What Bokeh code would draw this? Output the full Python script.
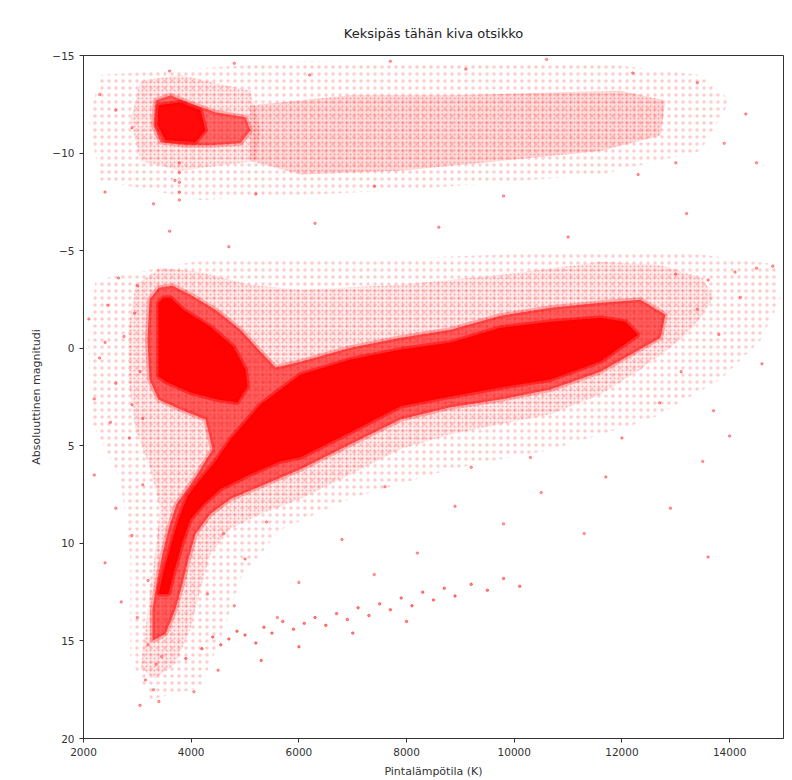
from bokeh.plotting import figure
from bokeh.models import Range1d, FixedTicker
from bokeh.embed import file_html
from bokeh.resources import INLINE

# ---------------- data ----------------
x_ticks = [2000, 4000, 6000, 8000, 10000, 12000, 14000]
y_ticks = [-15, -10, -5, 0, 5, 10, 15, 20]

# dense cores (T [K], M)
clump_T = [3486, 3616, 3857, 4358, 4786, 5009, 5046, 4860, 4488, 3987, 3560, 3393, 3393]
clump_M = [-2.58, -2.58, -1.97, -1.10, -0.08, 1.09, 1.96, 2.78, 2.63, 2.27, 1.76, 1.45, -2.33]

ms_T = [3393, 3486, 3579, 3671, 3764, 3931, 4173, 4451, 4730, 5287, 6030, 6958, 7887, 8816, 9744, 10673,
        11601, 12065, 12300, 11601, 10673, 9744, 8816, 7887, 6958, 6030, 5659, 5101, 4544, 4229, 3987,
        3857, 3764, 3671, 3579]
ms_M = [12.59, 11.46, 10.55, 9.63, 8.76, 7.58, 6.71, 5.79, 4.67, 2.88, 1.35, 0.58, 0.07, -0.29, -1.05, -1.36,
        -1.56, -1.36, -0.69, 0.68, 1.60, 2.01, 2.47, 2.98, 4.31, 5.59, 5.79, 6.46, 7.22, 7.99, 8.76,
        9.78, 10.65, 11.57, 12.59]

# dense speckle around the giant clump and main sequence
dense_T = [3226, 3393, 3653, 3987, 4451, 4916, 5250, 5566, 6030, 6958, 7887, 8816, 9744, 10673, 11601, 12344,
           12808, 12716, 12158, 11601, 10673, 9744, 8816, 7887, 6958, 6030, 5287, 4730, 4358, 4080, 3950,
           3838, 3709, 3523, 3281, 3281, 3374, 3467, 3579, 3727, 4080, 4395, 4266, 3801, 3393, 3226, 3188]
dense_M = [-2.48, -3.10, -3.20, -2.74, -1.97, -0.95, 0.07, 0.99, 0.69, -0.03, -0.54, -0.95, -1.67, -2.07, -2.33, -2.48,
           -1.72, -0.54, 0.33, 1.20, 2.12, 2.63, 3.03, 3.65, 4.92, 6.20, 7.07, 7.73, 8.50, 9.52, 10.80,
           12.08, 13.36, 14.63, 14.99, 13.36, 11.82, 10.55, 9.27, 7.99, 6.61, 5.18, 3.65, 3.14, 2.63, 1.60, -0.44]

# medium-density envelope
mid_T = [2966, 3430, 4173, 5101, 6030, 7887, 9744, 11601, 12716, 13500, 13700, 13400, 13087, 12344, 11601,
         10673, 9744, 8816, 7887, 6958, 6030, 5287, 4730, 4358, 4173, 3987, 3709, 3337, 3059, 3151, 3244,
         3337, 3430, 3244, 2966, 2836, 2836]
mid_M = [-3.25, -4.12, -3.91, -3.25, -2.99, -3.25, -3.76, -4.42, -4.27, -3.6, -2.6, -1.3, -0.44, 1.09, 2.37,
         3.39, 3.90, 4.41, 5.18, 6.46, 7.73, 8.50, 9.27, 10.55, 12.33, 14.38, 16.17, 16.93, 16.42, 14.38, 12.33,
         10.29, 8.25, 6.20, 4.16, 1.60, -0.95]

# sparse outer envelope
low_T = [2223, 4173, 7887, 11601, 13459, 14850, 14943, 14573, 13830, 12530, 10673, 8816, 6958, 5659, 4916,
         4544, 4173, 3244, 2873, 2873, 2687, 2130, 2093]
low_M = [-3.5, -4.5, -4.6, -5.0, -4.8, -4.3, -2.5, -0.4, 1.6, 3.65, 5.2, 6.2, 7.7, 9.3, 11.8,
         14.9, 17.4, 18.0, 15.9, 10.8, 6.7, 3.65, -0.4]

# upper group
top_core_T = [3393, 3801, 4173, 4266, 4080, 3523, 3374]
top_core_M = [-12.45, -12.6, -12.19, -11.17, -10.56, -10.66, -11.42]

top_dense_T = [3337, 3616, 3987, 4451, 5009, 5101, 4916, 4358, 3894, 3430, 3300]
top_dense_M = [-12.70, -12.96, -12.55, -12.09, -11.83, -11.17, -10.50, -10.40, -10.40, -10.56, -11.42]

top_mid_T = [3059, 3801, 5101, 5287, 5194, 3801, 3059, 2873]
top_mid_M = [-13.7, -14.0, -13.2, -11.2, -9.6, -9.1, -9.6, -11.7]

top_band_T = [5101, 6958, 8816, 10673, 11973, 12808, 12716, 11601, 9744, 7887, 6030, 5101]
top_band_M = [-12.45, -12.96, -12.96, -13.1, -13.2, -12.7, -10.9, -10.1, -9.6, -9.1, -8.9, -9.6]

top_low_T = [2316, 6030, 11601, 13459, 14016, 13459, 11601, 7887, 4173, 2316, 2093]
top_low_M = [-14.0, -14.7, -14.6, -14.0, -12.7, -10.1, -8.9, -8.1, -7.6, -8.6, -11.7]

# scattered individual stars
pts_T = [2100, 2300, 2450, 2600, 2750, 2900, 3000, 2500, 2200, 2850, 3050, 2650, 2950, 3100, 2400,
         3300, 3700, 5200, 7400, 9800, 12300, 6300, 3600, 11000, 13200, 4700, 8600, 14500, 2400,
         13000, 13600, 14100, 14500, 14800, 13400, 14200, 13800, 13100, 14600, 12700, 13700, 14000, 13500,
         12000, 11700, 10500, 12900, 11300, 13600, 9800, 8900, 7600, 10300, 9200,
         2200, 2600, 3100, 2900, 2400, 3200, 3000, 3200, 3350, 3150, 3050, 3300, 3450, 2700, 3400,
         4600, 5000, 5400, 6000, 4300, 4800, 6800, 7400, 8200, 5600, 4050, 4500,
         3600, 4800, 6200, 7700, 9100, 10600, 12200, 13400, 2600, 2300, 14300, 13900, 13000, 2900,
         3780, 3780, 3780, 3780, 3780]
pts_M = [-1.5, 0.5, -2.2, 1.8, -0.6, 2.9, -3.2, 3.8, 2.6, 4.6, 1.2, -3.6, -1.8, 3.6, -0.3,
         -7.4, -8.6, -7.9, -8.3, -7.8, -8.9, -6.4, -6.0, -5.7, -6.9, -5.2, -6.2, -9.5, -8.0,
         -3.8, -3.5, -3.9, -4.1, -4.2, -2.0, -2.6, -0.7, 1.2, 0.8, 2.8, 3.2, 4.5, 5.8,
         4.6, 6.6, 7.4, 8.2, 9.5, 10.7, 9.0, 8.1, 7.1, 5.6, 6.1,
         6.5, 8.2, 7.0, 9.6, 11.0, 11.9, 13.8, 15.2, 16.2, 17.0, 18.3, 17.5, 15.8, 13.0, 18.1,
         9.5, 10.8, 8.9, 12.0, 12.6, 13.2, 9.8, 11.6, 10.5, 13.8, 17.6, 16.5,
         -14.2, -14.6, -14.0, -14.7, -14.3, -14.8, -14.1, -13.6, -12.2, -13.0, -12.0, -10.5, -9.5, -11.3,
         -9.5, -9.0, -8.5, -8.0, -7.6]

# white dwarf sequence
wd_T = [3900, 4200, 4400, 4550, 4700, 4850, 5000, 5200, 5350, 5500, 5700, 5900, 6100, 6300, 6500, 6700,
        6900, 7100, 7300, 7500, 7700, 7900, 8100, 8300, 8500, 8700, 8900, 9200, 9500, 9800, 10100,
        6000, 7000, 8000, 5300]
wd_M = [15.9, 15.4, 14.8, 15.2, 14.9, 14.5, 14.7, 15.1, 14.3, 14.6, 14.0, 14.4, 14.1, 13.8, 14.2, 13.6,
        13.9, 13.3, 13.7, 13.1, 13.4, 12.8, 13.2, 12.5, 12.9, 12.3, 12.7, 12.1, 12.4, 11.8, 12.2,
        15.3, 14.6, 14.0, 16.0]

RED = "#ff0000"

p = figure(width=792, height=780, output_backend="svg", toolbar_location=None,
           x_range=Range1d(2000, 15000), y_range=Range1d(20, -15),
           min_border_left=83, min_border_right=9, min_border_top=55, min_border_bottom=40,
           title="Keksipäs tähän kiva otsikko")

p.title.align = "center"
p.title.text_font = "DejaVu Sans"
p.title.text_font_size = "13px"
p.title.text_font_style = "normal"
p.title.text_color = "#222222"
p.title.standoff = 30

# sparse envelopes as light stipple
for T, M in [(low_T, low_M), (top_low_T, top_low_M)]:
    p.patch(T, M, fill_alpha=0.0, line_alpha=0.0, hatch_pattern="dot", hatch_color=RED,
            hatch_alpha=0.2, hatch_scale=7, hatch_weight=1.2)

# medium envelopes
for T, M, fa in [(mid_T, mid_M, 0.08), (top_mid_T, top_mid_M, 0.08), (top_band_T, top_band_M, 0.14)]:
    p.patch(T, M, fill_color=RED, fill_alpha=fa, line_alpha=0.0, hatch_pattern="dot",
            hatch_color=RED, hatch_alpha=0.3, hatch_scale=4, hatch_weight=1.2)

# dense speckle
for T, M, fa in [(dense_T, dense_M, 0.6), (top_dense_T, top_dense_M, 0.55)]:
    p.patch(T, M, fill_color=RED, fill_alpha=fa, line_color=RED, line_alpha=0.25, line_width=5)

# solid cores
for T, M, fa in [(clump_T, clump_M, 0.97), (ms_T, ms_M, 0.97), (top_core_T, top_core_M, 0.9)]:
    p.patch(T, M, fill_color=RED, fill_alpha=fa, line_color=RED, line_alpha=0.5, line_width=5)

p.scatter(pts_T, pts_M, size=2.5, color=RED, alpha=0.35)
p.scatter(wd_T, wd_M, size=2.5, color=RED, alpha=0.45)

p.xaxis.ticker = FixedTicker(ticks=x_ticks)
p.yaxis.ticker = FixedTicker(ticks=y_ticks)
p.yaxis.major_label_overrides = {t: (("\u2212" + str(-t)) if t < 0 else str(t)) for t in y_ticks}
p.xaxis.axis_label = "Pintalämpötila (K)"
p.yaxis.axis_label = "Absoluuttinen magnitudi"
for ax in (p.xaxis, p.yaxis):
    ax.minor_tick_line_color = None
    ax.major_tick_in = 0
    ax.major_tick_out = 4
    ax.axis_line_color = "#333333"
    ax.major_tick_line_color = "#333333"
    ax.major_label_text_font = "DejaVu Sans"
    ax.major_label_text_font_size = "10.5px"
    ax.major_label_text_color = "#333333"
    ax.axis_label_text_font = "DejaVu Sans"
    ax.axis_label_text_font_size = "11px"
    ax.axis_label_text_font_style = "normal"
    ax.axis_label_text_color = "#333333"
    ax.axis_label_standoff = 6
p.xgrid.visible = False
p.ygrid.visible = False
p.outline_line_color = "#333333"
p.outline_line_alpha = 1.0
p.background_fill_color = "white"
p.border_fill_color = "white"

open("out.html", "w").write(file_html(p, INLINE))
